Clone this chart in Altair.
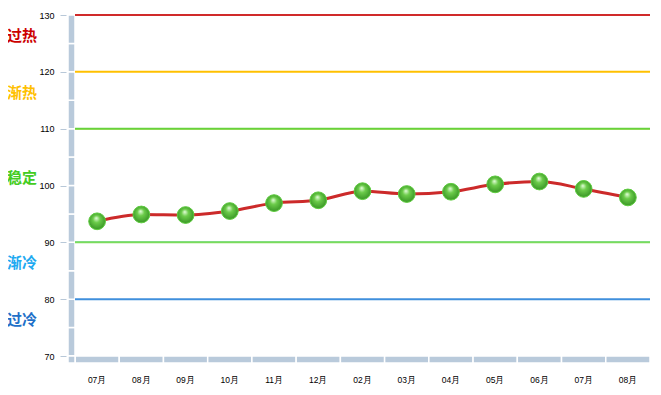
import altair as alt
import pandas as pd

months = ["07月", "08月", "09月", "10月", "11月", "12月", "02月", "03月", "04月", "05月", "06月", "07月", "08月"]
values = [93.7, 94.9, 94.8, 95.5, 96.9, 97.4, 99.0, 98.5, 98.9, 100.2, 100.7, 99.4, 97.9]

rule_values = [130, 120, 110, 90, 80]
rule_colors = ["#d02a2a", "#ffc000", "#66d23c", "#7adc5a", "#3f8fdc"]

edge_values = [110, 90]
edge_colors = ["#ffd84a", "#39b8f0"]
edge_shift = [-1.5, 1.5]

zone_labels = ["过热", "渐热", "稳定", "渐冷", "过冷"]
zone_pos = [126.3, 116.3, 101.3, 86.4, 76.3]
zone_colors = ["#cc0000", "#ffc000", "#44cc22", "#1eaaf1", "#1e70c8"]

wall_starts = [70, 75, 80, 85, 90, 95, 100, 105, 110, 115, 120, 125]
y_ticks = [70, 80, 90, 100, 110, 120, 130]

W, H = 575, 341

df = pd.DataFrame({"idx": list(range(len(months))), "value": values})
rules = pd.DataFrame({"v": rule_values, "c": rule_colors})
edges = pd.DataFrame({"v": edge_values, "c": edge_colors, "s": edge_shift})
zones = pd.DataFrame({"label": zone_labels, "pos": zone_pos, "c": zone_colors})
wall = pd.DataFrame({"a": wall_starts, "b": [s + 5 for s in wall_starts]})

label_expr = "[" + ",".join("'" + m + "'" for m in months) + "][datum.value]"

xs = alt.Scale(domain=list(range(len(months))), paddingInner=0, paddingOuter=0)
ys = alt.Scale(domain=[70, 130], nice=False, zero=False)

x_enc = alt.X("idx:O", scale=xs, title=None,
              axis=alt.Axis(labelExpr=label_expr, labelAngle=0, ticks=False, domain=False,
                            offset=7, labelPadding=12, labelFontSize=8.5,
                            labelFont="Liberation Sans", labelColor="#000000"))
y_enc = alt.Y("value:Q", scale=ys, title=None,
              axis=alt.Axis(values=y_ticks, offset=9, tickSize=6, domain=False, grid=False,
                            tickColor="#b8c8d8", labelFontSize=9, labelPadding=6,
                            labelFont="Liberation Sans", labelColor="#000000"))

floor = alt.Chart(df).mark_rect(color="#b9cadb", stroke="#ffffff", strokeWidth=1.5).encode(
    x=x_enc, y=alt.value(H), y2=alt.value(H + 7)
)
wall_ch = alt.Chart(wall).mark_rect(color="#b9cadb", stroke="#ffffff", strokeWidth=1.5).encode(
    y=alt.Y("a:Q", scale=ys), y2="b:Q", x=alt.value(-7), x2=alt.value(0)
)
corner = alt.Chart(wall).mark_rect(color="#b9cadb", stroke="#ffffff", strokeWidth=1.5).encode(
    x=alt.value(-7), x2=alt.value(0), y=alt.value(H), y2=alt.value(H + 7)
)

edge_ch = alt.Chart(edges).mark_rule(strokeWidth=1.5).encode(
    y=alt.Y("v:Q", scale=ys), x=alt.value(0), x2=alt.value(W),
    yOffset=alt.YOffset("s:Q", scale=None),
    color=alt.Color("c:N", scale=None)
)
rule_ch = alt.Chart(rules).mark_rule(strokeWidth=2).encode(
    y=alt.Y("v:Q", scale=ys), x=alt.value(0), x2=alt.value(W),
    color=alt.Color("c:N", scale=None)
)

zone_ch = alt.Chart(zones).mark_text(align="left", baseline="middle", fontSize=15,
                                     fontWeight="bold", font="Noto Sans CJK SC").encode(
    y=alt.Y("pos:Q", scale=ys), x=alt.value(-68), text="label:N",
    color=alt.Color("c:N", scale=None)
)

line = alt.Chart(df).mark_line(color="#cc2a2a", strokeWidth=3, interpolate="monotone").encode(
    x=x_enc, y=y_enc
)

grad = {
    "gradient": "radial",
    "x1": 0.45, "y1": 0.3, "x2": 0.5, "y2": 0.5, "r1": 0, "r2": 0.6,
    "stops": [
        {"offset": 0, "color": "#e8ffe0"},
        {"offset": 0.35, "color": "#6ccc4a"},
        {"offset": 1, "color": "#2e8a1e"},
    ],
}
shadow = alt.Chart(df).mark_circle(size=290, color="#000000", opacity=0.15, dx=1, dy=2).encode(
    x=x_enc, y=y_enc
)
pts = alt.Chart(df).mark_point(size=280, filled=True, fill=grad, stroke="#5fcf3f",
                               strokeWidth=1, opacity=1, shape="circle").encode(
    x=x_enc, y=y_enc
)

chart = alt.layer(floor, wall_ch, corner, edge_ch, rule_ch, zone_ch, line, shadow, pts).properties(
    width=W, height=H,
    autosize=alt.AutoSizeParams(type="none"),
    padding={"left": 67, "top": 7, "right": 1, "bottom": 30},
).configure_view(stroke=None)

chart.save("out.html", embed_options={"renderer": "svg", "actions": False})
